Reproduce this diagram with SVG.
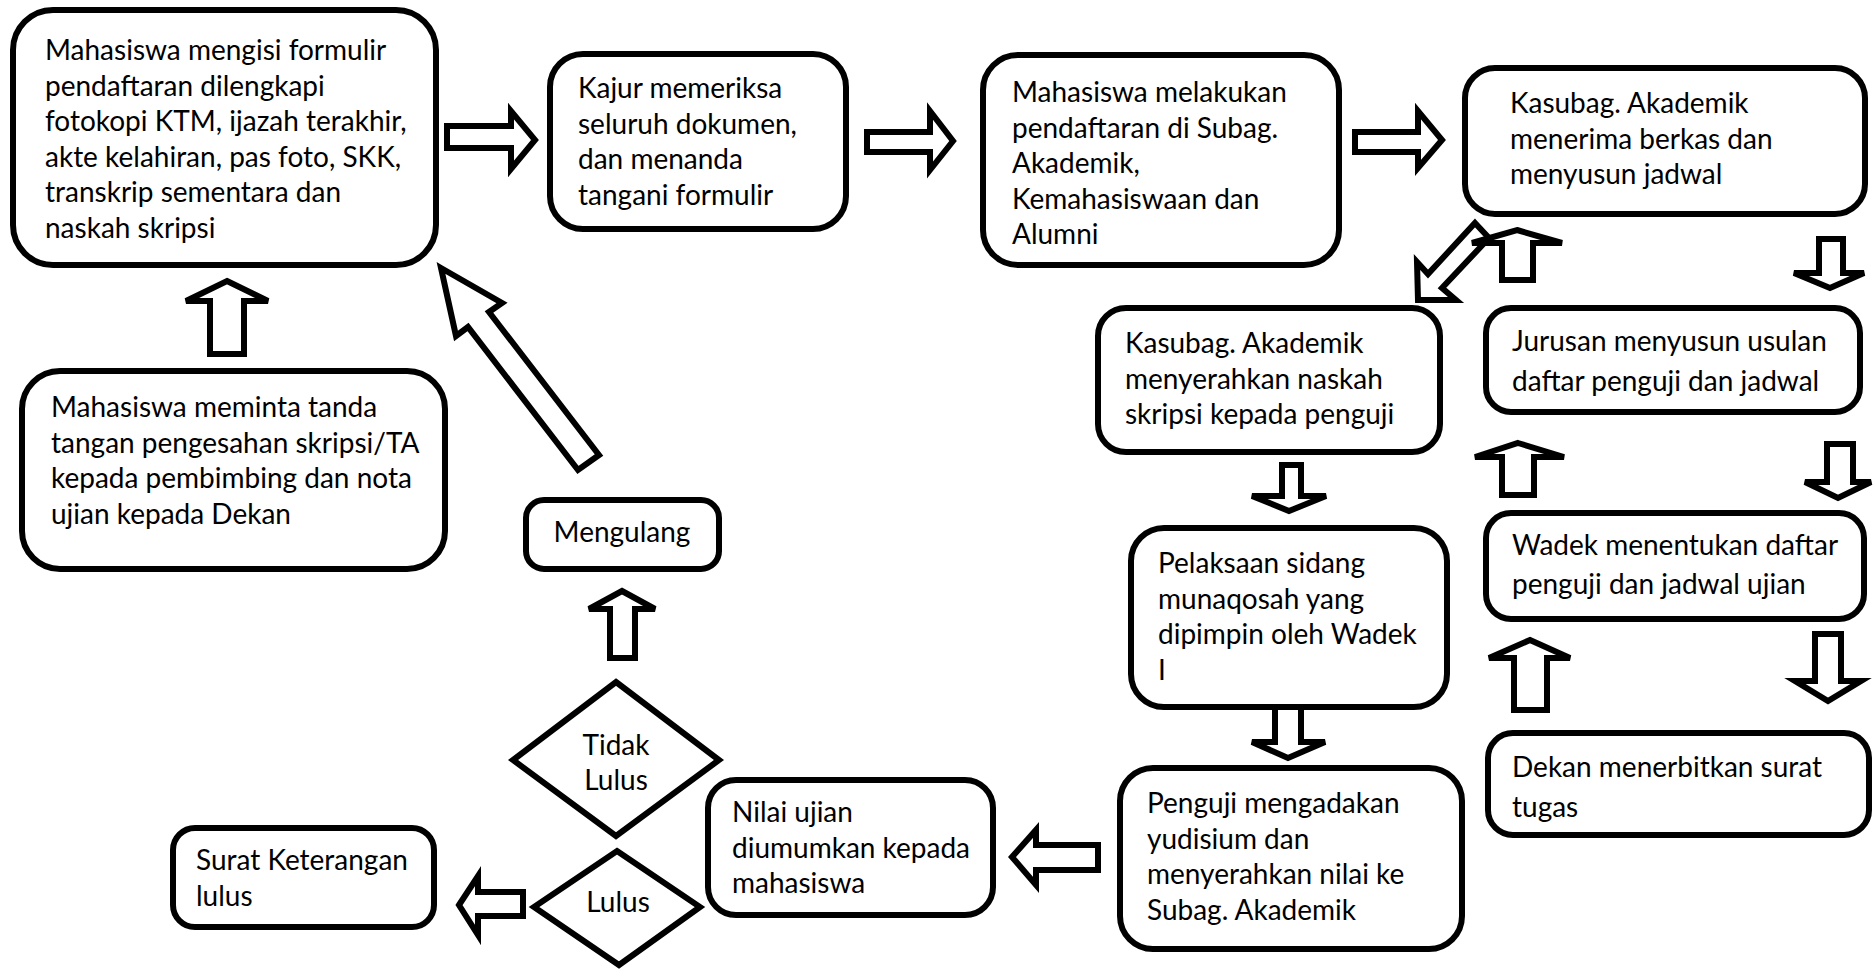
<svg xmlns="http://www.w3.org/2000/svg" width="1874" height="969" viewBox="0 0 1874 969">
  <style>
    .box { fill: #ffffff; stroke: #000000; stroke-width: 6; }
    .dia { fill: #ffffff; stroke: #000000; stroke-width: 6; stroke-linejoin: miter; }
    .arw { fill: #ffffff; stroke: #000000; stroke-width: 6; stroke-linejoin: miter; }
    text { font-family: "Lato", "Open Sans", "Liberation Sans", sans-serif; font-size: 28px; fill: #000000; }
    .c { text-anchor: middle; }
  </style>
  <defs>
    <clipPath id="clip-kajur">
      <rect x="550" y="54" width="296" height="157"/>
    </clipPath>
  </defs>

  <!-- block arrows -->
  <g id="connectors">
    <path class="arw" d="M447,126 H511 V111 L535,140 L511,169 V148 H447 Z"/>
    <path class="arw" d="M867,132 H930 V111 L953,141 L930,170 V152 H867 Z"/>
    <path class="arw" d="M1355,132 H1418 V111 L1442,140 L1418,168 V152 H1355 Z"/>
    <!-- box4 to box5 (diagonal) -->
    <path class="arw" d="M1475,223 L1489,238 L1442,288 L1456,300 L1418,300 L1417,262 L1428,274 Z"/>
    <!-- upward arrows, right-hand column -->
    <path class="arw" d="M1517,230 L1562,243 H1533 V280 H1502 V243 H1472 Z"/>
    <path class="arw" d="M1518,443 L1564,457 H1534 V495 H1502 V457 H1475 Z"/>
    <path class="arw" d="M1530,640 L1570,658 H1547 V710 H1514 V658 H1489 Z"/>
    <!-- downward arrows, right-hand column -->
    <path class="arw" d="M1819,239 H1843 V273 H1864 L1830,288 L1794,273 H1819 Z"/>
    <path class="arw" d="M1827,444 H1853 V482 H1871 L1838,498 L1805,482 H1827 Z"/>
    <path class="arw" d="M1815,634 H1841 V681 H1861 L1828,701 L1795,681 H1815 Z"/>
    <!-- downward arrows, middle column -->
    <path class="arw" d="M1282,465 H1301 V496 H1326 L1289,511 L1252,496 H1282 Z"/>
    <path class="arw" d="M1275,705 H1301 V742 H1325 L1288,758 L1252,742 H1275 Z"/>
    <!-- leftward arrows, bottom row -->
    <path class="arw" d="M1012,857 L1036,830 V845 H1098 V870 H1036 V885 Z"/>
    <path class="arw" d="M459,905 L478,876 V892 H523 V916 H478 V935 Z"/>
    <!-- upward arrows, left side -->
    <path class="arw" d="M227,281 L268,301 H244 V354 H210 V301 H186 Z"/>
    <path class="arw" d="M622,591 L655,609 H635 V658 H610 V609 H589 Z"/>
    <!-- Mengulang back to the first step (diagonal) -->
    <path class="arw" d="M441,268 L502,303 L489,312 L599,455 L578,470 L468,327 L456,336 Z"/>
  </g>

  <g id="n-formulir">
    <rect class="box" x="13" y="10" width="423" height="255" rx="40"/>
    <text x="45" y="60">Mahasiswa mengisi formulir</text>
    <text x="45" y="95.5">pendaftaran dilengkapi</text>
    <text x="45" y="131">fotokopi KTM, ijazah terakhir,</text>
    <text x="45" y="166.5">akte kelahiran, pas foto, SKK,</text>
    <text x="45" y="202">transkrip sementara dan</text>
    <text x="45" y="237.5">naskah skripsi</text>
  </g>

  <g id="n-kajur">
    <rect class="box" x="550" y="54" width="296" height="175" rx="33"/>
    <g clip-path="url(#clip-kajur)">
      <text x="578" y="98">Kajur memeriksa</text>
      <text x="578" y="133.5">seluruh dokumen,</text>
      <text x="578" y="169">dan menanda</text>
      <text x="578" y="204.5">tangani formulir</text>
    </g>
  </g>

  <g id="n-pendaftaran">
    <rect class="box" x="983" y="55" width="356" height="210" rx="35"/>
    <text x="1012" y="102">Mahasiswa melakukan</text>
    <text x="1012" y="137.5">pendaftaran di Subag.</text>
    <text x="1012" y="173">Akademik,</text>
    <text x="1012" y="208.5">Kemahasiswaan dan</text>
    <text x="1012" y="244">Alumni</text>
  </g>

  <g id="n-kasubag-terima">
    <rect class="box" x="1465" y="68" width="400" height="146" rx="30"/>
    <text x="1510" y="113">Kasubag. Akademik</text>
    <text x="1510" y="148.5">menerima berkas dan</text>
    <text x="1510" y="184">menyusun jadwal</text>
  </g>

  <g id="n-kasubag-serah">
    <rect class="box" x="1098" y="308" width="342" height="144" rx="28"/>
    <text x="1125" y="353">Kasubag. Akademik</text>
    <text x="1125" y="388.5">menyerahkan naskah</text>
    <text x="1125" y="424">skripsi kepada penguji</text>
  </g>

  <g id="n-jurusan">
    <rect class="box" x="1486" y="308" width="374" height="104" rx="25"/>
    <text x="1512" y="351">Jurusan menyusun usulan</text>
    <text x="1512" y="391">daftar penguji dan jadwal</text>
  </g>

  <g id="n-sidang">
    <rect class="box" x="1131" y="528" width="316" height="179" rx="33"/>
    <text x="1158" y="573">Pelaksaan sidang</text>
    <text x="1158" y="608.5">munaqosah yang</text>
    <text x="1158" y="644">dipimpin oleh Wadek</text>
    <text x="1158" y="679.5">I</text>
  </g>

  <g id="n-wadek">
    <rect class="box" x="1486" y="513" width="378" height="106" rx="25"/>
    <text x="1512" y="555">Wadek menentukan daftar</text>
    <text x="1512" y="594">penguji dan jadwal ujian</text>
  </g>

  <g id="n-dekan">
    <rect class="box" x="1488" y="733" width="381" height="102" rx="25"/>
    <text x="1512" y="777">Dekan menerbitkan surat</text>
    <text x="1512" y="817">tugas</text>
  </g>

  <g id="n-yudisium">
    <rect class="box" x="1120" y="768" width="342" height="181" rx="33"/>
    <text x="1147" y="813">Penguji mengadakan</text>
    <text x="1147" y="848.5">yudisium dan</text>
    <text x="1147" y="884">menyerahkan nilai ke</text>
    <text x="1147" y="919.5">Subag. Akademik</text>
  </g>

  <g id="n-nilai">
    <rect class="box" x="708" y="780" width="285" height="135" rx="28"/>
    <text x="732" y="822">Nilai ujian</text>
    <text x="732" y="857.5">diumumkan kepada</text>
    <text x="732" y="893">mahasiswa</text>
  </g>

  <g id="n-tidak-lulus">
    <polygon class="dia" points="616,682 719,760 616,836 513,760"/>
    <text class="c" x="616" y="755">Tidak</text>
    <text class="c" x="616" y="790">Lulus</text>
  </g>

  <g id="n-lulus">
    <polygon class="dia" points="617,851 700,907 619,965 534,907"/>
    <text class="c" x="618" y="912">Lulus</text>
  </g>

  <g id="n-surat">
    <rect class="box" x="173" y="828" width="261" height="99" rx="22"/>
    <text x="196" y="870">Surat Keterangan</text>
    <text x="196" y="906">lulus</text>
  </g>

  <g id="n-mengulang">
    <rect class="box" x="526" y="500" width="193" height="69" rx="18"/>
    <text class="c" x="622" y="542">Mengulang</text>
  </g>

  <g id="n-pengesahan">
    <rect class="box" x="22" y="371" width="423" height="198" rx="38"/>
    <text x="51" y="417">Mahasiswa meminta tanda</text>
    <text x="51" y="452.5">tangan pengesahan skripsi/TA</text>
    <text x="51" y="488">kepada pembimbing dan nota</text>
    <text x="51" y="523.5">ujian kepada Dekan</text>
  </g>
</svg>
